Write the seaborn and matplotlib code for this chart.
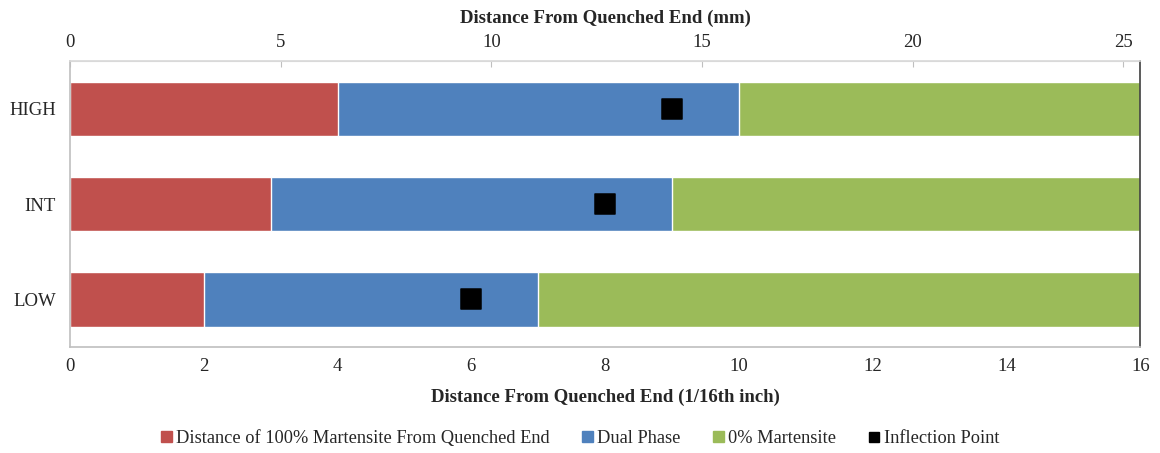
import pandas as pd
import seaborn as sns
import matplotlib.pyplot as plt
from matplotlib.lines import Line2D
from matplotlib.patches import Patch

# dati (unita': 1/16 di pollice)
categories = ["HIGH", "INT", "LOW"]
full_martensite = [4, 3, 2]
dual_phase = [6, 6, 5]
zero_martensite = [6, 7, 9]
inflection = [9, 8, 6]

red = "#C0504D"
blue = "#4F81BD"
green = "#9BBB59"

df = pd.DataFrame({"Cat": categories, "Red": full_martensite,
                   "Blue": dual_phase, "Green": zero_martensite,
                   "Infl": inflection})
# somme cumulative per impilare le barre
df["EndRed"] = df["Red"]
df["EndBlue"] = df["Red"] + df["Blue"]
df["EndGreen"] = df["EndBlue"] + df["Green"]

sns.set_style("white")
plt.rcParams['font.family'] = ['Liberation Serif', 'DejaVu Serif']
fs = 13.5

fig, ax = plt.subplots(figsize=(11.6, 4.53), dpi=100)
fig.subplots_adjust(left=0.0603, right=0.983, top=0.8653, bottom=0.234)

sns.barplot(data=df, y="Cat", x="EndGreen", color=green, saturation=1, width=0.57, ax=ax)
sns.barplot(data=df, y="Cat", x="EndBlue", color=blue, saturation=1, width=0.57, ax=ax)
sns.barplot(data=df, y="Cat", x="EndRed", color=red, saturation=1, width=0.57, ax=ax)
sns.scatterplot(data=df, y="Cat", x="Infl", marker="s", s=190, color="black",
                edgecolor="black", ax=ax, zorder=5)

ax.set_xlim(0, 16)
ax.set_ylim(2.5, -0.5)
ax.set_xticks(range(0, 17, 2))
ax.set_ylabel("")
ax.set_xlabel("Distance From Quenched End (1/16th inch)", fontsize=fs, fontweight="bold", labelpad=10)
ax.tick_params(axis="x", length=0, labelsize=fs, pad=8)
ax.tick_params(axis="y", length=0, labelsize=fs, pad=10)

ax.spines["top"].set_color("#d9d9d9")
ax.spines["left"].set_color("#bfbfbf")
ax.spines["bottom"].set_color("#bfbfbf")
ax.spines["right"].set_color("#404040")
for s in ax.spines.values():
    s.set_linewidth(1.2)

# asse superiore in mm
sec = ax.secondary_xaxis("top", functions=(lambda x: x * 1.5875, lambda x: x / 1.5875))
sec.set_xticks(range(0, 26, 5))
sec.tick_params(axis="x", length=4, color="#bfbfbf", labelsize=fs, pad=7, direction="in")
sec.spines["top"].set_color("#d9d9d9")
sec.set_xlabel("Distance From Quenched End (mm)", fontsize=fs, fontweight="bold", labelpad=8)

handles = [Patch(color=red), Patch(color=blue), Patch(color=green),
           Line2D([], [], marker="s", color="black", linestyle="none", markersize=7)]
labels = ["Distance of 100% Martensite From Quenched End", "Dual Phase",
          "0% Martensite", "Inflection Point"]
fig.legend(handles, labels, loc="center", bbox_to_anchor=(0.5, 0.032), ncol=4,
           frameon=False, fontsize=13.2, handlelength=0.6, handleheight=0.6,
           handletextpad=0.2, columnspacing=1.8)

plt.savefig("out.png", dpi=100)
